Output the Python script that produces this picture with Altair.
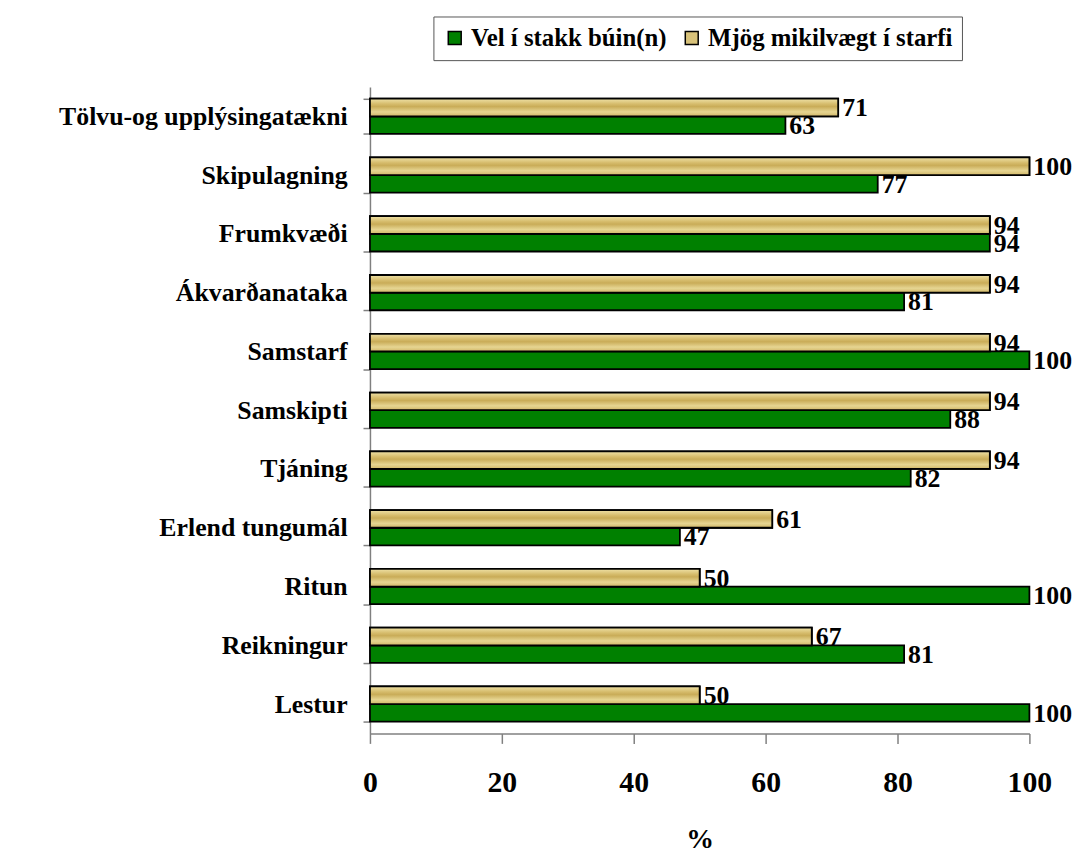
import altair as alt
import pandas as pd

categories = ["Tölvu-og upplýsingatækni", "Skipulagning", "Frumkvæði", "Ákvarðanataka",
              "Samstarf", "Samskipti", "Tjáning", "Erlend tungumál", "Ritun",
              "Reikningur", "Lestur"]
series_names = ["Vel í stakk búin(n)", "Mjög mikilvægt í starfi"]
vel_values = [63, 77, 94, 81, 100, 88, 82, 47, 100, 81, 100]
mjog_values = [71, 100, 94, 94, 94, 94, 94, 61, 50, 67, 50]
x_ticks = [0, 20, 40, 60, 80, 100]

rows = []
for c, v, m in zip(categories, vel_values, mjog_values):
    rows.append({"cat": c, "series": series_names[0], "value": v})
    rows.append({"cat": c, "series": series_names[1], "value": m})
df = pd.DataFrame(rows)

FONT = "Liberation Serif"
GREEN = "#008000"
TAN = "#D8C27A"

y_enc = alt.Y("cat:N", sort=categories, title=None,
              scale=alt.Scale(paddingInner=0.4, paddingOuter=0.2))
yoff_enc = alt.YOffset("series:N",
                       scale=alt.Scale(domain=[series_names[1], series_names[0]]))
x_enc = alt.X("value:Q", title="%",
              scale=alt.Scale(domain=[0, 100], nice=False),
              axis=alt.Axis(values=x_ticks))

base = alt.Chart(df)

bars = base.mark_bar(stroke="black", strokeWidth=1.8).encode(
    x=x_enc,
    y=y_enc,
    yOffset=yoff_enc,
    color=alt.Color("series:N",
                    scale=alt.Scale(domain=series_names, range=[GREEN, TAN]),
                    legend=alt.Legend(title=None, orient="none", legendX=64, legendY=-71,
                                      direction="horizontal")),
)

grad = alt.LinearGradient(
    gradient="linear",
    stops=[
        alt.GradientStop(color="#EFE2A8", offset=0),
        alt.GradientStop(color="#D6BC6C", offset=0.3),
        alt.GradientStop(color="#C9AC58", offset=0.45),
        alt.GradientStop(color="#E6D592", offset=0.75),
        alt.GradientStop(color="#D2B868", offset=1),
    ],
    x1=0, x2=0, y1=0, y2=1,
)

tan_bars = base.transform_filter(
    alt.datum.series == series_names[1]
).mark_bar(stroke="black", strokeWidth=1.8, fill=grad).encode(
    x=x_enc,
    y=y_enc,
    yOffset=yoff_enc,
)

labels = base.mark_text(align="left", baseline="middle", dx=4, dy=1,
                        font=FONT, fontWeight="bold", fontSize=26, color="black").encode(
    x=x_enc,
    y=y_enc,
    yOffset=yoff_enc,
    text="value:Q",
)

chart = alt.layer(bars, tan_bars, labels).properties(
    width=665, height=652,
    padding={"top": 4, "left": 50, "right": 5, "bottom": 0},
).configure_view(
    stroke=None
).configure_axis(
    grid=False,
    labelFont=FONT, labelFontWeight="bold", labelColor="black",
    titleFont=FONT, titleFontWeight="bold", titleColor="black",
    domainColor="#808080", tickColor="#808080", domainWidth=1.5, tickWidth=1.5,
    labelLimit=600,
).configure_axisY(
    labelFontSize=26, tickSize=7, labelPadding=16, tickBand="extent",
).configure_axisX(
    labelFontSize=30, tickSize=10, labelPadding=25, titleFontSize=28, titlePadding=28,
    labelFlush=False,
).configure_legend(
    labelFont=FONT, labelFontWeight="bold", labelFontSize=25, labelColor="black",
    symbolType="square", symbolSize=170, symbolStrokeColor="black", symbolStrokeWidth=1.5,
    symbolOpacity=1, strokeColor="#555555", fillColor="white", padding=9,
    columnPadding=12, labelLimit=600,
)

chart.save("out.html", embed_options={"renderer": "svg", "actions": False})
